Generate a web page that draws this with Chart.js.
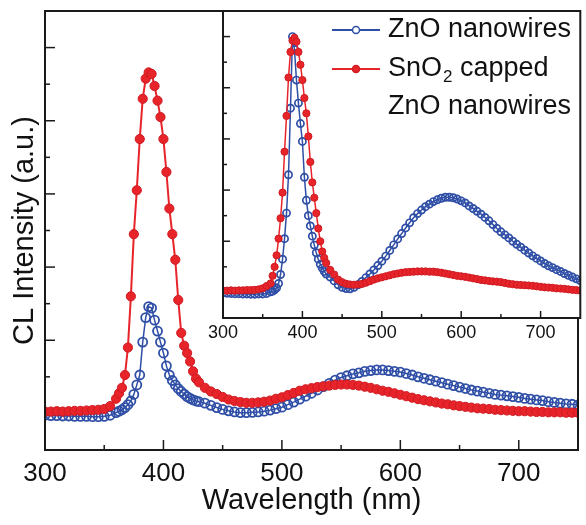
<!DOCTYPE html>
<html>
<head>
<meta charset="utf-8">
<script src="https://cdn.jsdelivr.net/npm/chart.js@4.4.0/dist/chart.umd.min.js"></script>
<style>
  html, body { margin: 0; padding: 0; background: #fff; }
  #wrap { position: relative; width: 586px; height: 525px; }
  #mainChart { position: absolute; left: 0; top: 0; }
  #insetChart { position: absolute; left: 200px; top: 0; }
</style>
</head>
<body>
<div id="wrap">
  <canvas id="mainChart" width="586" height="525"></canvas>
  <canvas id="insetChart" width="386" height="350"></canvas>
</div>
<script>
// wavelength (nm), shared by every series
const wavelength = [
  300,305,310,315,320,325,330,335,340,345,350,355,
  360,362.5,365,367.5,370,372.5,375,377.5,380,382.5,385,387.5,390,392.5,395,397.5,400,402.5,405,407.5,410,412.5,415,417.5,420,422.5,425,427.5,430,
  435,440,445,450,455,460,465,470,475,480,
  485,490,495,500,505,510,515,520,525,530,
  535,540,545,550,555,560,565,570,575,580,
  585,590,595,600,605,610,615,620,625,630,
  635,640,645,650,655,660,665,670,675,680,
  685,690,695,700,705,710,715,720,725,730,
  735,740,745,750
];

// main panel, raw CL intensity (a.u.)
const mainZnO = [
  -1.05,-1.06,-1.06,-1.07,-1.07,-1.08,-1.08,-1.08,-1.09,-1.09,-1.08,-1.05,
  -0.98,-0.94,-0.9,-0.84,-0.76,-0.66,-0.48,-0.22,0.05,0.95,1.62,1.92,1.88,1.55,1.25,0.95,0.65,0.3,0.05,-0.1,-0.22,-0.32,-0.4,-0.47,-0.54,-0.59,-0.63,-0.66,-0.68,
  -0.72,-0.78,-0.84,-0.89,-0.93,-0.96,-0.98,-0.98,-0.97,-0.96,
  -0.94,-0.91,-0.87,-0.83,-0.76,-0.69,-0.61,-0.53,-0.45,-0.36,
  -0.27,-0.18,-0.09,-0.02,0.03,0.08,0.11,0.15,0.17,0.19,
  0.19,0.17,0.15,0.13,0.09,0.05,0.0,-0.04,-0.08,-0.12,
  -0.16,-0.2,-0.24,-0.28,-0.32,-0.36,-0.39,-0.42,-0.45,-0.48,
  -0.5,-0.52,-0.54,-0.56,-0.59,-0.61,-0.63,-0.65,-0.68,-0.7,
  -0.72,-0.74,-0.75,-0.77
];
const mainSnO2 = [
  -0.95,-0.95,-0.94,-0.95,-0.94,-0.93,-0.93,-0.92,-0.91,-0.9,-0.88,-0.8,
  -0.6,-0.45,-0.3,0.05,0.8,2.2,3.9,5.1,6.5,7.6,8.15,8.32,8.28,7.95,7.55,7.1,6.5,5.6,4.6,3.9,3.2,2.1,1.2,0.85,0.65,0.42,0.15,-0.05,-0.15,
  -0.3,-0.4,-0.47,-0.55,-0.62,-0.66,-0.69,-0.71,-0.71,-0.7,
  -0.68,-0.65,-0.6,-0.56,-0.5,-0.44,-0.38,-0.34,-0.31,-0.28,
  -0.26,-0.24,-0.22,-0.21,-0.21,-0.22,-0.24,-0.27,-0.3,-0.34,
  -0.38,-0.41,-0.45,-0.49,-0.53,-0.57,-0.61,-0.64,-0.67,-0.7,
  -0.73,-0.75,-0.78,-0.8,-0.82,-0.84,-0.86,-0.87,-0.88,-0.9,
  -0.91,-0.92,-0.93,-0.94,-0.94,-0.95,-0.96,-0.96,-0.97,-0.97,
  -0.97,-0.98,-0.98,-0.98
];

// inset, normalised spectra
const insetZnO = [
  -1.02,-1.03,-1.04,-1.05,-1.05,-1.06,-1.06,-1.07,-1.07,-1.06,-1.06,-1.04,
  -0.98,-0.95,-0.9,-0.82,-0.65,-0.3,0.3,1.1,2.1,3.6,6.2,9.0,8.5,7.3,6.4,5.6,4.9,3.5,2.6,2.0,1.6,1.2,0.85,0.55,0.3,0.1,-0.05,-0.18,-0.28,
  -0.4,-0.55,-0.7,-0.8,-0.85,-0.86,-0.8,-0.7,-0.57,-0.42,
  -0.28,-0.12,0.05,0.22,0.42,0.64,0.86,1.09,1.3,1.52,
  1.72,1.92,2.08,2.22,2.35,2.45,2.55,2.62,2.68,2.72,
  2.72,2.7,2.65,2.58,2.5,2.38,2.28,2.17,2.06,1.93,
  1.8,1.65,1.5,1.37,1.25,1.13,1.0,0.88,0.77,0.65,
  0.54,0.43,0.33,0.23,0.13,0.04,-0.03,-0.11,-0.18,-0.26,
  -0.33,-0.4,-0.47,-0.54
];
const insetSnO2 = [
  -0.93,-0.93,-0.92,-0.93,-0.92,-0.92,-0.91,-0.91,-0.9,-0.88,-0.84,-0.75,
  -0.65,-0.35,0.0,0.45,1.1,1.9,2.9,4.5,5.9,7.4,8.4,8.85,8.95,8.8,8.4,7.9,7.3,6.6,6.0,5.1,4.1,3.3,2.7,2.1,1.5,1.0,0.6,0.35,0.15,
  -0.12,-0.3,-0.5,-0.6,-0.66,-0.69,-0.7,-0.69,-0.67,-0.62,
  -0.56,-0.5,-0.45,-0.41,-0.37,-0.33,-0.29,-0.26,-0.23,-0.21,
  -0.2,-0.19,-0.18,-0.18,-0.18,-0.19,-0.19,-0.21,-0.23,-0.26,
  -0.29,-0.32,-0.35,-0.37,-0.39,-0.42,-0.45,-0.48,-0.51,-0.53,
  -0.55,-0.57,-0.58,-0.6,-0.63,-0.66,-0.68,-0.7,-0.71,-0.72,
  -0.73,-0.74,-0.76,-0.78,-0.8,-0.81,-0.82,-0.84,-0.85,-0.86,
  -0.88,-0.9,-0.91,-0.93
];

const xLabels = [300, 400, 500, 600, 700];
const legendText = [['ZnO nanowires'], ['SnO₂ capped', 'ZnO nanowires']];

const BLUE = '#2f4ea6';
const RED = '#e8242b';
const FAMILY = "'Liberation Sans', Arial, sans-serif";
Chart.defaults.font.family = FAMILY;
Chart.defaults.color = '#111';

const pts = ys => wavelength.map((w, i) => ({ x: w, y: ys[i] }));

// inward tick marks + box frame
const axisTicks = {
  id: 'axisTicks',
  afterDatasetsDraw(chart, args, opts) {
    const { ctx, chartArea: a, scales: { x, y } } = chart;
    ctx.save();
    ctx.strokeStyle = '#1a1a1a';
    ctx.lineWidth = 1.5;
    x.ticks.forEach(t => {
      if (t.value <= x.min || t.value >= x.max) return;
      const px = x.getPixelForValue(t.value);
      const len = t.value % 100 === 0 ? opts.major : opts.minor;
      ctx.beginPath(); ctx.moveTo(px, a.bottom); ctx.lineTo(px, a.bottom - len); ctx.stroke();
    });
    y.ticks.forEach(t => {
      if (t.value < 0 || t.value >= y.max) return;
      const py = y.getPixelForValue(t.value);
      const len = Math.abs(t.value % 2) === 1 ? opts.major : opts.minor;
      ctx.beginPath(); ctx.moveTo(a.left, py); ctx.lineTo(a.left + len, py); ctx.stroke();
    });
    ctx.lineWidth = 2;
    ctx.strokeRect(a.left, a.top, a.width, a.height);
    ctx.restore();
  }
};

const whiteArea = {
  id: 'whiteArea',
  beforeDraw(chart) {
    const { ctx, chartArea: a } = chart;
    ctx.save();
    ctx.fillStyle = '#fff';
    ctx.fillRect(a.left, a.top, a.width, a.height);
    ctx.restore();
  }
};

function drawRich(ctx, text, x, y, size) {
  ctx.textBaseline = 'middle';
  ctx.textAlign = 'left';
  ctx.fillStyle = '#111';
  const parts = text.split('₂');
  parts.forEach((p, k) => {
    ctx.font = size + 'px ' + FAMILY;
    ctx.fillText(p, x, y);
    x += ctx.measureText(p).width;
    if (k < parts.length - 1) {
      ctx.font = Math.round(size * 0.62) + 'px ' + FAMILY;
      ctx.fillText('2', x + 1, y + size * 0.32);
      x += ctx.measureText('2').width + 1;
    }
  });
}

const insetLegend = {
  id: 'insetLegend',
  afterDraw(chart, args, opts) {
    const { ctx } = chart;
    ctx.save();
    chart.data.datasets.forEach((ds, i) => {
      const y = opts.rows[i];
      ctx.strokeStyle = ds.borderColor;
      ctx.lineWidth = 2;
      ctx.beginPath(); ctx.moveTo(opts.x0, y); ctx.lineTo(opts.x1, y); ctx.stroke();
      ctx.beginPath();
      ctx.arc((opts.x0 + opts.x1) / 2, y, opts.r, 0, Math.PI * 2);
      ctx.fillStyle = ds.pointBackgroundColor === 'transparent' ? '#fff' : ds.pointBackgroundColor;
      ctx.fill();
      ctx.lineWidth = 1.5;
      ctx.strokeStyle = ds.pointBorderColor;
      ctx.stroke();
      legendText[i].forEach((line, j) => drawRich(ctx, line, opts.tx, y + j * opts.gap, opts.size));
    });
    ctx.restore();
  }
};

function series(ys, color, filled, r, lw, bw, order) {
  return {
    data: pts(ys),
    borderColor: color,
    borderWidth: lw,
    pointRadius: r,
    pointBorderWidth: bw,
    pointBackgroundColor: filled ? color : 'transparent',
    pointBorderColor: filled ? '#d01a21' : color,
    order: order,
    clip: 0
  };
}

new Chart(document.getElementById('mainChart'), {
  type: 'line',
  data: {
    datasets: [
      series(mainZnO, BLUE, false, 4.5, 1.5, 1.8, 2),
      series(mainSnO2, RED, true, 4.6, 2, 1, 1)
    ]
  },
  options: {
    responsive: false,
    animation: false,
    layout: { padding: { top: 11, right: 1, left: 0, bottom: 0 } },
    plugins: { legend: { display: false }, tooltip: { enabled: false }, axisTicks: { major: 10, minor: 5 } },
    scales: {
      x: {
        type: 'linear', min: 300, max: 750,
        grid: { display: false, drawTicks: false },
        border: { display: false },
        ticks: {
          stepSize: 50, autoSkip: false, maxRotation: 0, padding: 8,
          font: { size: 26 },
          callback: v => xLabels.includes(v) ? String(v) : ''
        },
        title: { display: true, text: 'Wavelength (nm)', font: { size: 29 }, padding: { top: 0, bottom: 7 } },
        afterFit: s => { s.height = 75; }
      },
      y: {
        type: 'linear', min: -2, max: 10,
        grid: { display: false, drawTicks: false },
        border: { display: false },
        ticks: { stepSize: 1, display: false },
        title: { display: true, text: 'CL Intensity (a.u.)', font: { size: 29 }, padding: { top: 8, bottom: 0 } },
        afterFit: s => { s.width = 45; }
      }
    }
  },
  plugins: [axisTicks]
});

new Chart(document.getElementById('insetChart'), {
  type: 'line',
  data: {
    datasets: [
      series(insetZnO, BLUE, false, 3.6, 1.5, 1.7, 2),
      series(insetSnO2, RED, true, 3.6, 1.5, 1, 1)
    ]
  },
  options: {
    responsive: false,
    animation: false,
    layout: { padding: { top: 11, right: 1, left: 0, bottom: 0 } },
    plugins: {
      legend: { display: false }, tooltip: { enabled: false },
      axisTicks: { major: 7, minor: 4 },
      insetLegend: { rows: [30, 69], gap: 38, x0: 132, x1: 180, r: 3.5, tx: 188, size: 27 }
    },
    scales: {
      x: {
        type: 'linear', min: 300, max: 750,
        grid: { display: false, drawTicks: false },
        border: { display: false },
        ticks: {
          stepSize: 50, autoSkip: false, maxRotation: 0, padding: 4,
          font: { size: 18 },
          callback: v => xLabels.includes(v) ? String(v) : ''
        },
        afterFit: s => { s.height = 32; }
      },
      y: {
        type: 'linear', min: -2, max: 10,
        grid: { display: false, drawTicks: false },
        border: { display: false },
        ticks: { stepSize: 1, display: false },
        afterFit: s => { s.width = 23; }
      }
    }
  },
  plugins: [whiteArea, axisTicks, insetLegend]
});
</script>
</body>
</html>
